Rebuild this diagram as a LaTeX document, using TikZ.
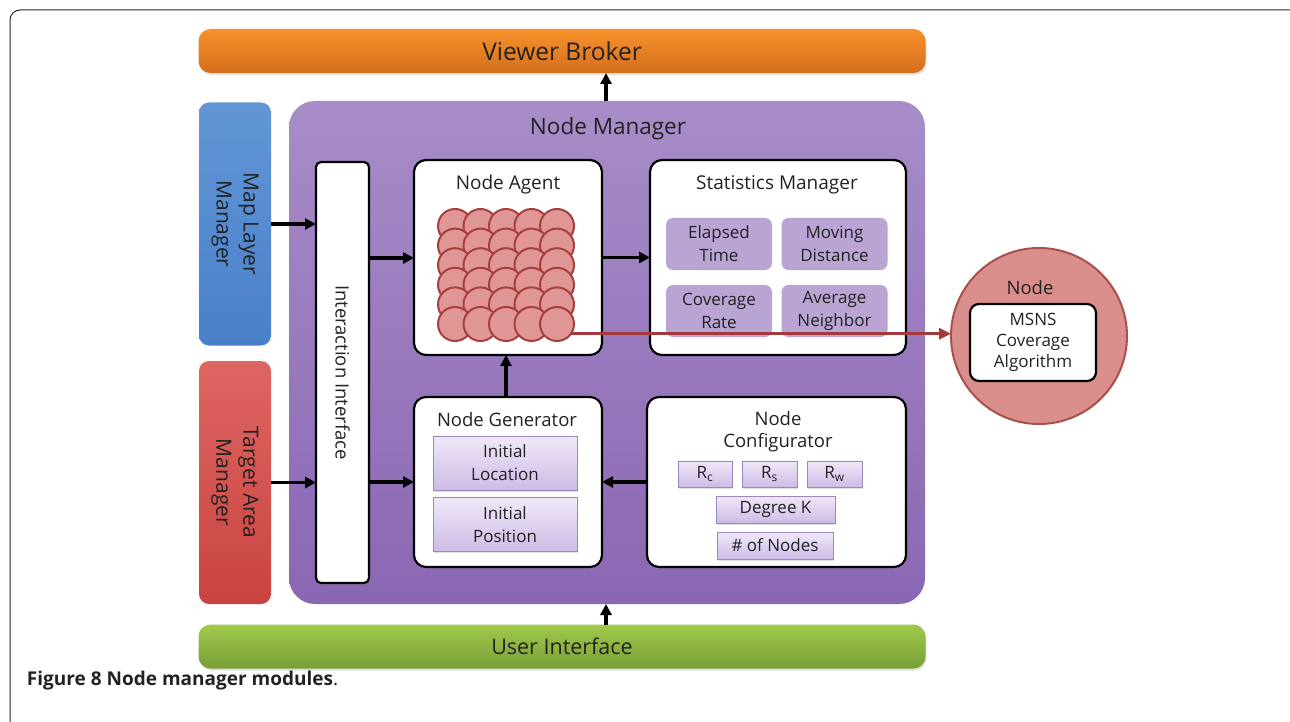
\documentclass[tikz,border=0pt]{standalone}
\usepackage{fontspec}
\setmainfont{Open Sans}
\usetikzlibrary{arrows.meta,shadows}
\definecolor{orangeT}{HTML}{F7922B}
\definecolor{orangeB}{HTML}{D46E1E}
\definecolor{blueT}{HTML}{6196D6}
\definecolor{blueB}{HTML}{4A80C9}
\definecolor{redT}{HTML}{DE6560}
\definecolor{redB}{HTML}{C94441}
\definecolor{purpT}{HTML}{A78DC8}
\definecolor{purpB}{HTML}{8A67B3}
\definecolor{greenT}{HTML}{A0C94C}
\definecolor{greenB}{HTML}{7A9E38}
\definecolor{statfill}{HTML}{B9A4D4}
\definecolor{lavT}{HTML}{F0E8F9}
\definecolor{lavB}{HTML}{CDBBE6}
\definecolor{lavEdge}{HTML}{9C86BC}
\definecolor{circFill}{HTML}{E09694}
\definecolor{circEdge}{HTML}{A63F3D}
\definecolor{nodeFill}{HTML}{DA8E8C}
\definecolor{nodeEdge}{HTML}{A8504E}
\definecolor{redLine}{HTML}{A3393A}
\definecolor{txt}{HTML}{222222}
\begin{document}
\begin{tikzpicture}[x=1pt,y=-1pt,
  every node/.style={inner sep=0pt,outer sep=0pt,text=txt},
  bar/.style={rounded corners=12pt,minimum width=727pt,minimum height=44pt,
    drop shadow={shadow xshift=1pt,shadow yshift=-2pt,opacity=0.25}},
  sidebox/.style={rounded corners=10pt,minimum width=72pt,minimum height=243pt},
  wbox/.style={draw=black,line width=2.2pt,fill=white,rounded corners=12pt},
  title/.style={font=\fontsize{19}{22}\selectfont,align=center},
  statbox/.style={fill=statfill,rounded corners=7pt,minimum width=106pt,minimum height=52pt,
    font=\fontsize{17}{23}\selectfont,align=center},
  lavbox/.style={draw=lavEdge,line width=0.8pt,top color=lavT,bottom color=lavB,
    font=\fontsize{17}{23}\selectfont,align=center,
    drop shadow={shadow xshift=1pt,shadow yshift=-1.5pt,opacity=0.25}},
  agentcirc/.style={circle,fill=circFill,draw=circEdge,line width=2pt,minimum size=34pt},
  arr/.style={line width=3.6pt,-{Triangle[length=11pt,width=11pt]}},
]
\useasboundingbox (0,0) rectangle (1290,722);
% outer frame
\draw[line width=1pt,black!85,rounded corners=10pt] (10,722) -- (10,10) -- (1300,10);

% top and bottom bars
\node[bar,top color=orangeT,bottom color=orangeB,font=\fontsize{24.5}{28}\selectfont] (viewer) at (562,51) {Viewer Broker};
\node[bar,top color=greenT,bottom color=greenB,font=\fontsize{21.5}{26}\selectfont] (ui) at (562,646.5) {User Interface};

% side managers
\node[sidebox,top color=blueT,bottom color=blueB] (map) at (235,224) {};
\node[rotate=-90,align=center,font=\fontsize{21}{27}\selectfont] at (map.center) {Map Layer\\Manager};
\node[sidebox,top color=redT,bottom color=redB] (target) at (235,482.5) {};
\node[rotate=-90,align=center,font=\fontsize{21}{27}\selectfont] at (target.center) {Target Area\\Manager};

% node manager
\node[rounded corners=26pt,top color=purpT,bottom color=purpB,minimum width=636pt,minimum height=503pt] (nm) at (607,352.5) {};
\node[font=\fontsize{22.5}{26}\selectfont] (nmtitle) at (608,129) {Node Manager};

% interaction interface
\node[wbox,rounded corners=5pt,minimum width=53pt,minimum height=421pt] (ii) at (342.5,372.5) {};
\node[rotate=-90,font=\fontsize{18.5}{20}\selectfont] at (ii.center) {Interaction Interface};

% node agent
\node[wbox,minimum width=188pt,minimum height=195pt] (agent) at (508,257.5) {};
\node[title] at (508,185) {Node Agent};
\foreach \r in {0,...,5}{
  \foreach \c in {0,...,4}{
    \node[agentcirc] (c\r\c) at (455+25.5*\c,226+19.6*\r) {};
  }
}

% statistics manager
\node[wbox,minimum width=256pt,minimum height=195pt] (stats) at (778,257.5) {};
\node[title] at (777,185) {Statistics Manager};
\node[statbox] (elapsed) at (719,244) {Elapsed\\Time};
\node[statbox] (moving) at (834.5,244) {Moving\\Distance};
\node[statbox] (covrate) at (719,311) {Coverage\\Rate};
\node[statbox] (avgnb) at (834.5,311) {Average\\Neighbor};

% node generator
\node[wbox,minimum width=188pt,minimum height=170pt] (gen) at (508,482) {};
\node[title,font=\fontsize{18.5}{22}\selectfont] at (507,420) {Node Generator};
\node[lavbox,minimum width=144pt,minimum height=54pt] (initloc) at (505,463) {Initial\\Location};
\node[lavbox,minimum width=144pt,minimum height=54pt] (initpos) at (505,524.5) {Initial\\Position};

% node configurator
\node[wbox,minimum width=259pt,minimum height=170pt] (conf) at (776.5,482) {};
\node[title,font=\fontsize{18.5}{22}\selectfont] at (778,432) {Node\\Configurator};
\node[lavbox,minimum width=54pt,minimum height=26pt] (rc) at (705,474) {R\textsubscript{c}};
\node[lavbox,minimum width=55pt,minimum height=26pt] (rs) at (769.5,474) {R\textsubscript{s}};
\node[lavbox,minimum width=55pt,minimum height=26pt] (rw) at (834.5,474) {R\textsubscript{w}};
\node[lavbox,minimum width=119pt,minimum height=27pt] (degk) at (775.5,509.5) {Degree K};
\node[lavbox,minimum width=116pt,minimum height=27pt] (nnodes) at (775,545.5) {\# of Nodes};

% node circle
\node[circle,fill=nodeFill,draw=nodeEdge,line width=2pt,minimum size=176pt] (ncirc) at (1039,336) {};
\node[font=\fontsize{18.5}{22}\selectfont] at (1030,288) {Node};
\node[wbox,rounded corners=9pt,minimum width=126pt,minimum height=77pt,align=center,
  font=\fontsize{17}{21}\selectfont] (msns) at (1033,342.5) {MSNS\\Coverage\\Algorithm};

% connectors
\draw[arr] (map.east) -- (map.east -| ii.west);
\draw[arr] (target.east) -- (target.east -| ii.west);
\draw[arr] (ii.east |- 0,258) -- (agent.west |- 0,258);
\draw[arr] (ii.east |- gen.west) -- (gen.west);
\draw[arr] (agent.east) -- (agent.east -| stats.west);
\draw[arr] (gen.north -| 506,0) -- (agent.south -| 506,0);
\draw[arr] (conf.west) -- (conf.west -| gen.east);
\draw[arr] (nm.north -| 606,0) -- (viewer.south -| 606,0);
\draw[arr] (ui.north -| 606,0) -- (nm.south -| 606,0);
\draw[redLine,line width=3.2pt,-{Triangle[length=12pt,width=11pt]}] (c54.-35) -- (c54.-35 -| ncirc.west);

% caption
\node[anchor=west,font=\fontsize{19}{22}\selectfont] (cap) at (27,681) {\textbf{Figure 8 Node manager modules}.};
\end{tikzpicture}
\end{document}
